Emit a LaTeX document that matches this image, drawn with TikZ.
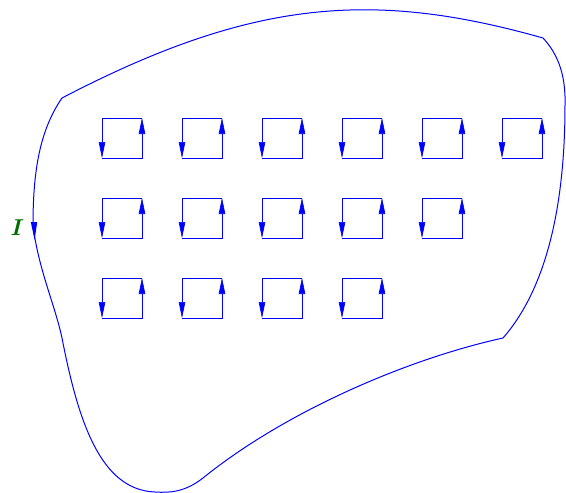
\documentclass[tikz,border=0pt]{standalone}
\usetikzlibrary{arrows.meta}
\definecolor{lblgreen}{RGB}{0,110,0}
\tikzset{
  boundary/.style={blue, line width=1pt, line join=miter},
  loopside/.style={blue, line width=0.6pt, -{Triangle[length=16pt,width=6.5pt]}},
}
\begin{document}
\begin{tikzpicture}[x=1pt,y=-1pt]
\useasboundingbox (0,0) rectangle (566,493);
% boundary curve
\coordinate (A) at (62,98);
\coordinate (B) at (543,38);
\coordinate (R) at (565,105);
\coordinate (C) at (503,338);
\coordinate (D) at (203,478);
\coordinate (Bt) at (155,492);
\coordinate (E) at (62,338);
\coordinate (L) at (33,225);
\draw[boundary] (A) .. controls (252,-1) and (373,-10) .. (B)
  .. controls (556,52) and (566,72) .. (R)
  .. controls (565,210) and (545,290) .. (C)
  .. controls (403,360) and (282,414) .. (D)
  .. controls (185,492) and (170,493) .. (Bt)
  .. controls (100,490) and (78,420) .. (E)
  .. controls (55,305) and (38,268) .. (L)
  .. controls (33,170) and (40,130) .. (A) -- cycle;
% arrow on the boundary
\fill[blue] (34.6,240) -- (30.8,222) -- (37.2,222) -- cycle;
\node[text=lblgreen, font=\fontsize{23}{24}\selectfont\bfseries\itshape] (lbl) at (15.5,228) {I};
% small circulating loops
\foreach \r/\n in {0/6,1/5,2/4}{
  \foreach \c in {1,...,\n}{
    \pgfmathsetmacro{\xl}{102+80*(\c-1)}
    \pgfmathsetmacro{\xr}{\xl+40}
    \pgfmathsetmacro{\yt}{118+80*\r}
    \pgfmathsetmacro{\yb}{\yt+40}
    \draw[loopside] (\xr,\yt) -- (\xl,\yt) -- (\xl,\yb);
    \draw[loopside] (\xl,\yb) -- (\xr,\yb) -- (\xr,\yt);
  }
}
\end{tikzpicture}
\end{document}
